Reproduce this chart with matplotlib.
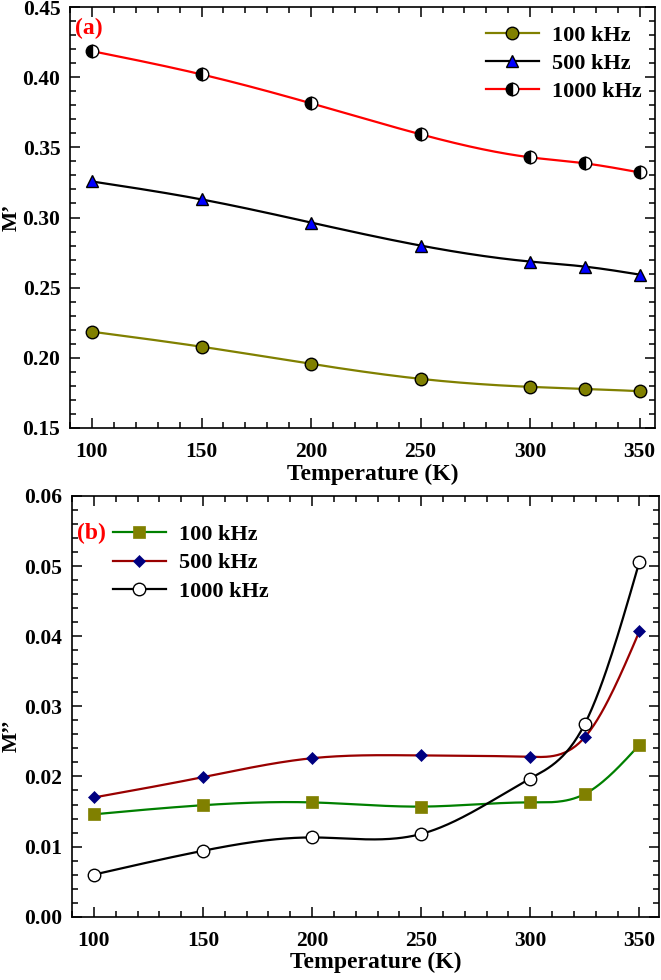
import numpy as np
import matplotlib.pyplot as plt
from matplotlib.ticker import MultipleLocator

plt.rcParams['font.family'] = ['Liberation Serif', 'DejaVu Serif']
plt.rcParams['font.weight'] = 'bold'

temps = [100, 150, 200, 250, 300, 325, 350]
freqs = ['100 kHz', '500 kHz', '1000 kHz']

# M' (panel a)
m1_100 = [0.2186, 0.2079, 0.1957, 0.1850, 0.1793, 0.1779, 0.1762]
m1_500 = [0.3257, 0.3129, 0.2964, 0.2800, 0.2686, 0.2650, 0.2593]
m1_1000 = [0.4186, 0.4020, 0.3814, 0.3593, 0.3429, 0.3386, 0.3321]

# M'' (panel b)
m2_100 = [0.0146, 0.0159, 0.0163, 0.0157, 0.0163, 0.0175, 0.0245]
m2_500 = [0.0170, 0.0199, 0.0226, 0.0230, 0.0228, 0.0256, 0.0407]
m2_1000 = [0.0060, 0.0094, 0.0113, 0.0118, 0.0197, 0.0275, 0.0506]


def smooth(x, y, n=300):
    # natural cubic spline through the points, for the line only
    x = np.asarray(x, float)
    y = np.asarray(y, float)
    k = len(x)
    h = np.diff(x)
    A = np.zeros((k, k))
    b = np.zeros(k)
    A[0, 0] = A[-1, -1] = 1
    for i in range(1, k - 1):
        A[i, i - 1] = h[i - 1]
        A[i, i] = 2 * (h[i - 1] + h[i])
        A[i, i + 1] = h[i]
        b[i] = 6 * ((y[i + 1] - y[i]) / h[i] - (y[i] - y[i - 1]) / h[i - 1])
    M = np.linalg.solve(A, b)
    xs = np.linspace(x[0], x[-1], n)
    idx = np.clip(np.searchsorted(x, xs) - 1, 0, k - 2)
    x0, x1 = x[idx], x[idx + 1]
    hh = x1 - x0
    t0 = x1 - xs
    t1 = xs - x0
    ys = (M[idx] * t0 ** 3 + M[idx + 1] * t1 ** 3) / (6 * hh) \
        + (y[idx] / hh - M[idx] * hh / 6) * t0 \
        + (y[idx + 1] / hh - M[idx + 1] * hh / 6) * t1
    return xs, ys


def series(ax, y, lc, label, **mk):
    xs, ys = smooth(temps, y)
    ax.plot(xs, ys, color=lc, lw=1.6, zorder=2)
    ax.plot(temps, y, ls='none', zorder=3, **mk)
    # legend handle
    ax.plot([], [], color=lc, lw=1.6, label=label, **mk)


def style(ax, ymaj, ymin, xlab_y):
    ax.xaxis.set_major_locator(MultipleLocator(50))
    ax.xaxis.set_minor_locator(MultipleLocator(10))
    ax.yaxis.set_major_locator(MultipleLocator(ymaj))
    ax.yaxis.set_minor_locator(MultipleLocator(ymin))
    ax.tick_params(which='both', direction='in', top=True, right=True, width=1.1)
    ax.tick_params(which='major', length=7, labelsize=15.5)
    ax.tick_params(axis='x', which='major', pad=10)
    ax.tick_params(axis='y', which='major', pad=7)
    ax.tick_params(which='minor', length=4)
    for s in ax.spines.values():
        s.set_linewidth(1.2)
    for lab in ax.get_xticklabels() + ax.get_yticklabels():
        lab.set_fontweight('bold')
    ax.set_xlabel('Temperature (K)', fontsize=17, fontweight='bold')
    ax.xaxis.set_label_coords(0.517, xlab_y)


fig = plt.figure(figsize=(6.61, 9.8), dpi=100)
ax1 = fig.add_axes([0.106, 0.5633, 0.885, 0.4295])
ax2 = fig.add_axes([0.109, 0.0646, 0.888, 0.4293])

series(ax1, m1_100, '#808000', freqs[0], marker='o', ms=9, mfc='#808000', mec='black', mew=1.0)
series(ax1, m1_500, 'black', freqs[1], marker='^', ms=9, mfc='#0000ff', mec='black', mew=1.0)
series(ax1, m1_1000, '#ff0000', freqs[2], marker='o', ms=9, fillstyle='left', mfc='black',
       markerfacecoloralt='white', mec='black', mew=1.0)
ax1.set_xlim(90, 357)
ax1.set_ylim(0.15, 0.45)
style(ax1, 0.05, 0.01, -0.084)
ax1.yaxis.set_major_formatter(plt.FormatStrFormatter('%.2f'))
ax1.set_ylabel("M\u2019", fontsize=15.5, fontweight='bold')
ax1.yaxis.set_label_coords(-0.082, 0.5)
ax1.text(0.008, 0.975, '(a)', transform=ax1.transAxes, color='#ff0000', fontsize=17,
         fontweight='bold', va='top', ha='left')
ax1.legend(loc='upper right', frameon=False, prop={'size': 16, 'weight': 'bold'},
           handlelength=2.4, handletextpad=0.6, labelspacing=0.35,
           bbox_to_anchor=(1.012, 1.005))

series(ax2, m2_100, '#008000', freqs[0], marker='s', ms=9, mfc='#808000', mec='#808000', mew=0.5)
series(ax2, m2_500, '#990000', freqs[1], marker='D', ms=6.5, mfc='#000080', mec='#000080', mew=0.5)
series(ax2, m2_1000, 'black', freqs[2], marker='o', ms=9, mfc='white', mec='black', mew=1.0)
ax2.set_xlim(90, 359)
ax2.set_ylim(0.0, 0.06)
style(ax2, 0.01, 0.002, -0.084)
ax2.yaxis.set_major_formatter(plt.FormatStrFormatter('%.2f'))
ax2.set_ylabel("M\u2019\u2019", fontsize=15.5, fontweight='bold')
ax2.yaxis.set_label_coords(-0.086, 0.43)
ax2.text(0.008, 0.935, '(b)', transform=ax2.transAxes, color='#ff0000', fontsize=17,
         fontweight='bold', va='top', ha='left')
ax2.legend(loc='upper left', frameon=False, prop={'size': 16, 'weight': 'bold'},
           handlelength=2.4, handletextpad=0.6, labelspacing=0.35,
           bbox_to_anchor=(0.035, 0.98))

fig.savefig('out.png', dpi=100)
